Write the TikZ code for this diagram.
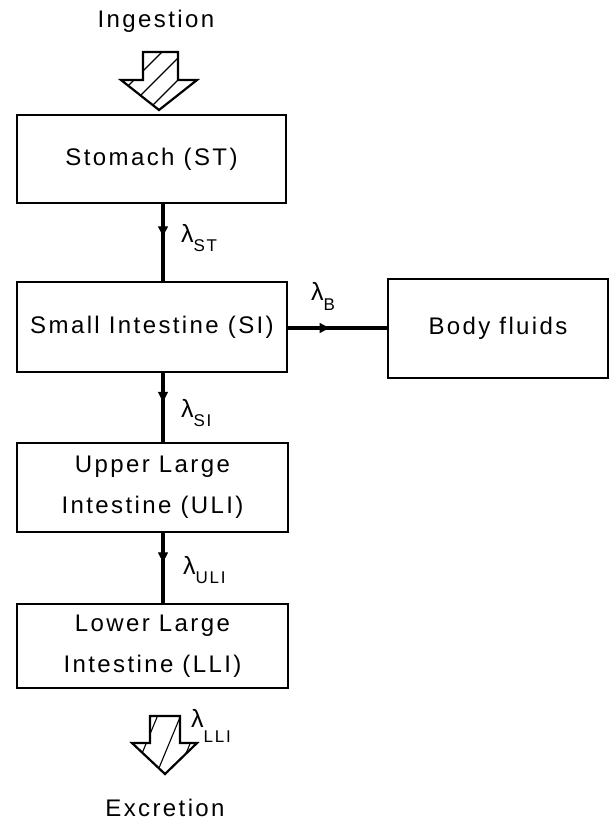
\documentclass[tikz,border=0pt]{standalone}
\usepackage{fontspec}
\setmainfont{Liberation Sans}[LetterSpace=10]
\usetikzlibrary{decorations.markings,arrows.meta}
\newcommand{\lamsub}[1]{λ\raisebox{-0.75ex}{\fontsize{17}{18}\selectfont #1}}
\begin{document}
\begin{tikzpicture}[x=1pt,y=-1pt,
  box/.style={draw,line width=1.8pt,minimum width=#1,inner sep=0pt,align=center,font=\fontsize{24}{41}\selectfont},
  conn/.style={line width=4.5pt,postaction={decorate},decoration={markings,mark=at position 0.42 with {\arrow[line width=1pt]{Triangle[length=10pt,width=10pt]}}}},
  lab/.style={font=\fontsize{25}{28}\selectfont,inner sep=0pt,anchor=west},
  txt/.style={font=\fontsize{24}{28}\selectfont,inner sep=0pt},
  harrow/.style={draw,line width=2.2pt,line join=miter},
  hatch/.style={line width=1.1pt}]
\useasboundingbox (0,0) rectangle (611,825);

\node[box=269pt,minimum height=88pt] (st) at (151.5,159) {\raisebox{-4pt}{Stomach (ST)}};
\node[box=270pt,minimum height=90pt] (si) at (152,327) {Small Intestine (SI)};
\node[box=220pt,minimum height=99pt] (bf) at (498,328.5) {Body fluids};
\node[box=271pt,minimum height=89pt] (uli) at (152.5,487.5) {Upper Large\\Intestine (ULI)};
\node[box=271pt,minimum height=84pt] (lli) at (152.5,646) {Lower Large\\Intestine (LLI)};

\node[txt] (ing) at (156,21) {Ingestion};
\node[txt] (exc) at (165,808) {Excretion};

\draw[conn] ([xshift=11.5pt]st.south) -- ([xshift=11pt]si.north);
\draw[conn] (si.east |- 0,328) -- (bf.west |- 0,328);
\draw[conn] ([xshift=11pt]si.south) -- ([xshift=10.5pt]uli.north);
\draw[conn] ([xshift=10.5pt]uli.south) -- ([xshift=10.5pt]lli.north);

\node[lab] (lst) at (181,238) {\lamsub{ST}};
\node[lab] (lb) at (311,296) {\lamsub{B}};
\node[lab] (lsi) at (181,413) {\lamsub{SI}};
\node[lab] (luli) at (183,570) {\lamsub{ULI}};
\node[lab] (llli) at (191,726) {λ\raisebox{-1.1ex}{\fontsize{17}{18}\selectfont LLI}};

% ingestion hatched arrow
\coordinate (ia) at (159,110);
\begin{scope}
\clip (143,52) -- (178,52) -- (178,80) -- (197,80) -- (ia) -- (121,80) -- (143,80) -- cycle;
\foreach \c in {214,236,258} \draw[hatch] (\c-40,40) -- (\c-130,130);
\end{scope}
\draw[harrow] (143,52) -- (178,52) -- (178,80) -- (197,80) -- (ia) -- (121,80) -- (143,80) -- cycle;

% excretion hatched arrow
\coordinate (ea) at (165,774);
\begin{scope}
\clip (150,716) -- (180,716) -- (180,743) -- (197,743) -- (ea) -- (132,743) -- (150,743) -- cycle;
\foreach \c in {160,183,204} \draw[hatch] (\c,710) -- (\c-29,780);
\end{scope}
\draw[harrow] (150,716) -- (180,716) -- (180,743) -- (197,743) -- (ea) -- (132,743) -- (150,743) -- cycle;
\end{tikzpicture}
\end{document}
